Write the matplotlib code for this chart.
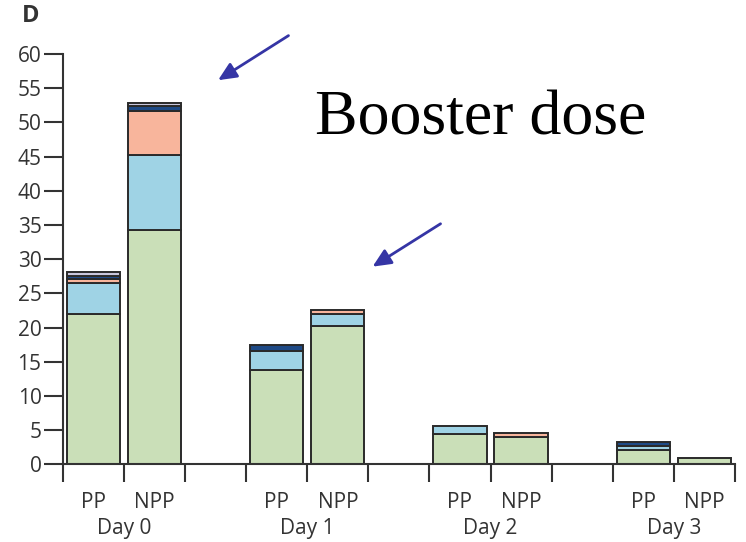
import numpy as np
import matplotlib.pyplot as plt

plt.rcParams['font.family'] = ['Open Sans', 'DejaVu Sans']

days = ['Day 0', 'Day 1', 'Day 2', 'Day 3']
groups = ['PP', 'NPP']

# stacked segments per bar, bar order: D0 PP, D0 NPP, D1 PP, D1 NPP, ...
seg_green = [22.0, 34.3, 13.8, 20.2, 4.4, 4.0, 2.1, 1.0]
seg_blue = [4.6, 10.9, 2.8, 1.75, 1.2, 0.0, 0.6, 0.0]
seg_salmon = [0.5, 6.5, 0.0, 0.65, 0.0, 0.65, 0.0, 0.0]
seg_navy = [0.5, 0.7, 0.8, 0.0, 0.0, 0.0, 0.65, 0.0]
seg_lavender = [0.5, 0.5, 0.0, 0.0, 0.0, 0.0, 0.0, 0.0]

layers = [seg_green, seg_blue, seg_salmon, seg_navy, seg_lavender]
colors = ['#cadfb8', '#9fd3e5', '#f8b59c', '#1e4a86', '#c8c6dc']

fig = plt.figure(figsize=(7.46, 5.42), dpi=100)
ax = fig.add_axes([0.0845, 0.143, 0.9005, 0.7574])

# each day takes three slots: PP, NPP, gap
pos = np.array([3 * d + g + 0.5 for d in range(len(days)) for g in range(len(groups))])
bottom = np.zeros(len(pos))
for vals, col in zip(layers, colors):
    vals = np.array(vals)
    mask = vals > 0
    ax.bar(pos[mask], vals[mask], bottom=bottom[mask], width=0.87,
           color=col, edgecolor='#2a2a2a', linewidth=1.4, zorder=2)
    bottom += vals

ax.set_xlim(0, 11)
ax.set_ylim(0, 60)
ax.set_yticks(np.arange(0, 61, 5))

ax.set_xticks(np.arange(0, 12))
ax.set_xticklabels([])
ax.set_xticks(pos, minor=True)
ax.set_xticklabels(groups * len(days), minor=True)
ax.tick_params(axis='x', which='major', direction='out', length=13, width=1.5, color='#333333')
ax.tick_params(axis='x', which='minor', length=0, pad=20, labelsize=15, labelcolor='#333333')
ax.tick_params(axis='y', direction='out', length=13.5, width=1.5, color='#333333',
               pad=2, labelsize=15, labelcolor='#333333')

for s in ['top', 'right']:
    ax.spines[s].set_visible(False)
for s in ['left', 'bottom']:
    ax.spines[s].set_linewidth(1.5)
    ax.spines[s].set_color('#333333')

for i, d in enumerate(days):
    ax.annotate(d, xy=(3 * i + 1, 0), xycoords=('data', 'axes fraction'),
                xytext=(0, -46), textcoords='offset points',
                ha='center', va='center', fontsize=15, color='#333333')

fig.text(0.029, 0.971, 'D', fontsize=17, fontweight='bold', color='#333333',
         ha='left', va='center')

ax.text(4.13, 48.2, 'Booster dose', fontsize=46, family='Liberation Serif',
        ha='left', va='baseline', color='black')

arrow = dict(arrowstyle='-|>,head_length=1.1,head_width=0.5', color='#3535a5', lw=2)
ax.annotate('', xy=(2.50, 55.95), xytext=(3.73, 62.9), arrowprops=arrow,
            annotation_clip=False)
ax.annotate('', xy=(5.03, 28.7), xytext=(6.22, 35.4), arrowprops=arrow,
            annotation_clip=False)

fig.savefig('out.png', dpi=100)
